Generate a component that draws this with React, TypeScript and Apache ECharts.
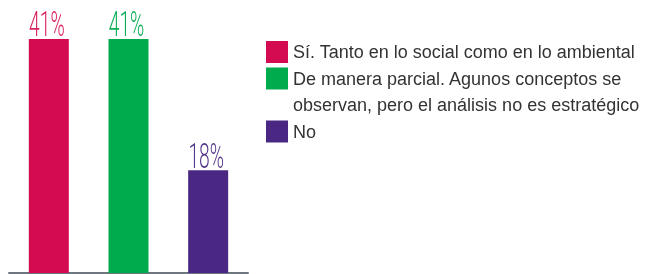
import React, { useEffect, useRef } from "react";
import * as echarts from "echarts";

const categories = ["Sí", "Parcial", "No"];
const values = [41, 41, 18];
const legendNames = [
  "Sí. Tanto en lo social como en lo ambiental",
  "De manera parcial. Agunos conceptos se",
  "No",
];
const legendContinuation = "observan, pero el análisis no es estratégico";
const colors = ["#d50b52", "#00ab4e", "#4a2783"];
const labelColors = ["#d8235f", "#0fae56", "#55388c"];

export default function App() {
  const ref = useRef<HTMLDivElement>(null);

  useEffect(() => {
    if (!ref.current) return;
    const chart = echarts.init(ref.current, undefined, { renderer: "svg" });

    const series: any[] = legendNames.map((name, i) => ({
      type: "bar",
      name,
      data: categories.map((_, j) => (j === i ? values[i] : "-")),
      barWidth: 40,
      barGap: "-100%",
      itemStyle: { color: colors[i] },
      silent: true,
    }));
    // invisible series used only to carry the legend's second text line
    series.splice(2, 0, {
      type: "bar",
      name: legendContinuation,
      data: [],
      barWidth: 40,
      barGap: "-100%",
      itemStyle: { color: "rgba(0,0,0,0)" },
      silent: true,
    });

    chart.setOption({
      animation: false,
      grid: { left: 9, width: 239, top: 39, height: 234 },
      xAxis: {
        type: "category",
        data: categories,
        axisLine: { show: true, lineStyle: { color: "#6e7680", width: 2 } },
        axisTick: { show: false },
        axisLabel: { show: false },
        splitLine: { show: false },
      },
      yAxis: {
        type: "value",
        min: 0,
        max: 41,
        show: false,
        splitLine: { show: false },
      },
      legend: {
        orient: "vertical",
        left: 266,
        top: 41,
        padding: 0,
        itemWidth: 22,
        itemHeight: 22,
        itemGap: 4.5,
        selectedMode: false,
        icon: "rect",
        textStyle: {
          fontFamily: "Liberation Sans, Arial, sans-serif",
          fontSize: 18,
          color: "#333333",
        },
        data: [
          { name: legendNames[0] },
          { name: legendNames[1] },
          { name: legendContinuation, itemStyle: { color: "rgba(0,0,0,0)", opacity: 0 } },
          { name: legendNames[2] },
        ],
      },
      series,
    });

    const graphics = values.map((v, i) => {
      const p = chart.convertToPixel({ gridIndex: 0 } as any, [i, v]) as number[];
      return {
        type: "text",
        x: p[0] - 2,
        y: p[1] + 3,
        scaleX: 0.55,
        silent: true,
        style: {
          text: v + "%",
          fontFamily: "Roboto, Liberation Sans, sans-serif",
          fontWeight: 300,
          fontSize: 35,
          fill: labelColors[i],
          align: "center",
          verticalAlign: "bottom",
        },
      };
    });
    chart.setOption({ graphic: graphics });

    return () => chart.dispose();
  }, []);

  return (
    <div
      ref={ref}
      style={{ position: "fixed", left: 0, top: 0, width: 650, height: 274 }}
    />
  );
}
